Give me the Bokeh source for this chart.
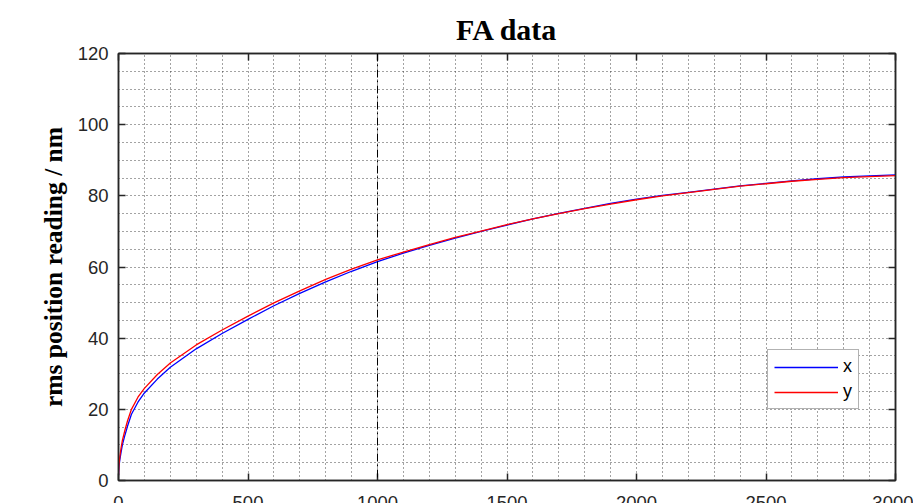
from bokeh.plotting import figure
from bokeh.models import (ColumnDataSource, LinearAxis, FixedTicker, Span, Legend,
                          LegendItem, CustomJSTickFormatter, Range1d)
from bokeh.embed import file_html
from bokeh.resources import INLINE

# ---- data ----
t = [0, 2, 5, 10, 15, 25, 35, 50, 75, 100, 150, 200, 300, 400, 500, 600, 700, 800,
     900, 1000, 1100, 1200, 1300, 1400, 1500, 1600, 1700, 1800, 1900, 2000, 2100,
     2200, 2300, 2400, 2500, 2600, 2700, 2800, 2900, 3000]
x_rms = [1.5, 4.0, 5.8, 8.0, 10.0, 12.8, 15.3, 18.6, 22.0, 24.6, 28.5, 31.8, 37.0,
         41.3, 45.3, 49.1, 52.6, 55.8, 58.8, 61.5, 63.9, 66.1, 68.1, 70.0, 71.8,
         73.5, 75.1, 76.5, 77.9, 79.1, 80.1, 81.0, 81.9, 82.8, 83.5, 84.2, 84.8,
         85.3, 85.6, 85.9]
y_rms = [1.5, 4.5, 6.6, 9.2, 11.3, 14.2, 16.8, 20.0, 23.4, 25.9, 29.8, 33.0, 38.1,
         42.3, 46.2, 49.9, 53.3, 56.5, 59.4, 62.0, 64.2, 66.3, 68.3, 70.1, 71.9,
         73.5, 75.0, 76.4, 77.7, 78.9, 80.0, 80.9, 81.8, 82.7, 83.4, 84.1, 84.6,
         85.1, 85.4, 85.7]

x_major_ticks = [0, 500, 1000, 1500, 2000, 2500, 3000]
x_minor_ticks = [v for v in range(0, 3001, 100) if v % 500 != 0]
y_major_ticks = [0, 20, 40, 60, 80, 100, 120]
y_minor_ticks = [v for v in range(0, 121, 5) if v % 20 != 0]
marker_x = 1000
title_text = "FA data"
ylabel_text = "rms position reading / nm"
series_labels = ["x", "y"]

AX = "#262626"
TICK_FONT = "Liberation Sans"

src = ColumnDataSource(dict(t=t, x=x_rms, y=y_rms))

p = figure(width=913, height=503, output_backend="svg", toolbar_location=None,
           x_range=Range1d(0, 3000), y_range=Range1d(0, 120),
           min_border_left=118, min_border_right=18, min_border_top=53,
           min_border_bottom=0, title=title_text,
           background_fill_color="white", border_fill_color="white")

p.title.align = "center"
p.title.text_font = "Liberation Serif"
p.title.text_font_size = "30px"
p.title.text_font_style = "bold"
p.title.text_color = "black"
p.title.standoff = 15

xt = FixedTicker(ticks=x_major_ticks, minor_ticks=x_minor_ticks)
yt = FixedTicker(ticks=y_major_ticks, minor_ticks=y_minor_ticks)


def style_axis(ax):
    ax.axis_line_color = AX
    ax.axis_line_width = 1.5
    ax.major_tick_line_color = AX
    ax.major_tick_line_width = 1.5
    ax.major_tick_in = 7
    ax.major_tick_out = 0
    ax.minor_tick_in = 0
    ax.minor_tick_out = 0
    ax.major_label_text_font = TICK_FONT
    ax.major_label_text_font_size = "18.5px"
    ax.major_label_text_color = AX
    ax.major_label_standoff = 10


xa = p.xaxis[0]
xa.ticker = xt
style_axis(xa)
xa.major_label_standoff = 15
xa.axis_label = " "
xa.axis_label_text_font_size = "10px"
xa.axis_label_standoff = -22

ya = p.yaxis[0]
ya.ticker = yt
style_axis(ya)
ya.axis_label = ylabel_text
ya.axis_label_text_font = "Liberation Serif"
ya.axis_label_text_font_size = "25.5px"
ya.axis_label_text_font_style = "bold"
ya.axis_label_text_color = "black"
ya.axis_label_standoff = 7

blank = CustomJSTickFormatter(code="return ''")
top = LinearAxis(ticker=xt, formatter=blank)
style_axis(top)
top.major_label_text_font_size = "0px"
top.major_label_standoff = 0
right = LinearAxis(ticker=yt, formatter=blank)
style_axis(right)
right.major_label_text_font_size = "0px"
right.major_label_standoff = 0
p.add_layout(top, "above")
p.add_layout(right, "right")

for g in (p.xgrid[0], p.ygrid[0]):
    g.grid_line_color = "#333333"
    g.grid_line_alpha = 0.9
    g.grid_line_width = 1
    g.grid_line_dash = "1 3"
    g.minor_grid_line_color = "#333333"
    g.minor_grid_line_alpha = 0.9
    g.minor_grid_line_width = 1
    g.minor_grid_line_dash = "1 3"
p.xgrid[0].ticker = xt
p.ygrid[0].ticker = yt

p.outline_line_color = AX
p.outline_line_width = 1.5

vline = Span(location=marker_x, dimension="height", line_color="black",
             line_width=1, line_dash="8 3 2 3")
p.add_layout(vline)

rx = p.line("t", "x", source=src, line_color="#0000ff", line_width=1.3)
ry = p.line("t", "y", source=src, line_color="#ff0000", line_width=1.3)

legend = Legend(items=[LegendItem(label=series_labels[0], renderers=[rx]),
                       LegendItem(label=series_labels[1], renderers=[ry])],
                location=(649, 71), margin=0, padding=6, spacing=4,
                glyph_width=64, glyph_height=20, label_width=9, label_height=21,
                label_standoff=5, label_text_font=TICK_FONT,
                label_text_font_size="18px", label_text_color="black",
                border_line_color="#666666", border_line_width=1,
                background_fill_color="white", background_fill_alpha=1)
p.add_layout(legend)

open("out.html", "w").write(file_html(p, INLINE))
